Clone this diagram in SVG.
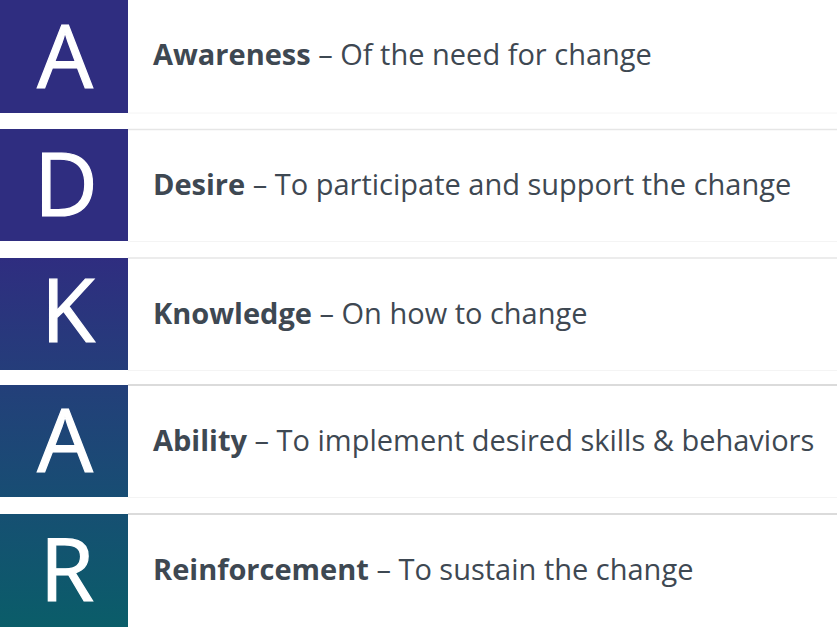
<svg xmlns="http://www.w3.org/2000/svg" width="837" height="627" viewBox="0 0 837 627">
<defs>
<linearGradient id="g" gradientUnits="userSpaceOnUse" x1="0" y1="0" x2="0" y2="627">
<stop offset="0" stop-color="#2f2d80"/>
<stop offset="0.41" stop-color="#2f2d80"/>
<stop offset="0.6" stop-color="#243e7a"/>
<stop offset="0.8" stop-color="#174e73"/>
<stop offset="1" stop-color="#0a5d69"/>
</linearGradient>
<style>
.box{fill:url(#g)}
.lt{stroke:#e6e6e6;stroke-width:1.5}
.lf{stroke:#f4f4f4;stroke-width:1}
.ld{stroke:#cfcfcf;stroke-width:1.5}
.letter{font-family:"Open Sans","Liberation Sans",sans-serif;font-size:88px;font-weight:400;fill:#ffffff;text-anchor:middle;stroke:#ffffff;stroke-width:1.2}
.t{font-family:"Open Sans","Liberation Sans",sans-serif;font-size:29px;fill:#3e4852}
.b{font-weight:bold}
</style>
</defs>
<rect width="837" height="627" fill="#ffffff"/>
<g id="lines">
<line class="lf" x1="128" y1="113" x2="837" y2="113"/>
<line class="lt" x1="128" y1="129.5" x2="837" y2="129.5"/>
<line class="lf" x1="128" y1="241.5" x2="837" y2="241.5"/>
<line class="lt" x1="128" y1="258" x2="837" y2="258"/>
<line class="lf" x1="128" y1="370.5" x2="837" y2="370.5"/>
<line class="ld" x1="128" y1="385" x2="837" y2="385"/>
<line class="lf" x1="128" y1="497.5" x2="837" y2="497.5"/>
<line class="ld" x1="128" y1="514" x2="837" y2="514"/>
</g>
<g id="awareness">
<rect class="box" x="0" y="0" width="128" height="113"/>
<text class="letter" x="65" y="88">A</text>
<text class="t" x="153" y="65"><tspan class="b">Awareness</tspan> – Of the need for change</text>
</g>
<g id="desire">
<rect class="box" x="0" y="129" width="128" height="112"/>
<text class="letter" x="66" y="216">D</text>
<text class="t" x="153" y="195"><tspan class="b">Desire</tspan> – To participate and support the change</text>
</g>
<g id="knowledge">
<rect class="box" x="0" y="258" width="128" height="112"/>
<text class="letter" x="68" y="342">K</text>
<text class="t" x="153" y="324"><tspan class="b">Knowledge</tspan> – On how to change</text>
</g>
<g id="ability">
<rect class="box" x="0" y="385" width="128" height="112"/>
<text class="letter" x="65" y="472">A</text>
<text class="t" x="153" y="451"><tspan class="b">Ability</tspan> – To implement desired skills &amp; behaviors</text>
</g>
<g id="reinforcement">
<rect class="box" x="0" y="514" width="128" height="113"/>
<text class="letter" x="67" y="601">R</text>
<text class="t" x="153" y="580"><tspan class="b">Reinforcement</tspan> – To sustain the change</text>
</g>
</svg>
